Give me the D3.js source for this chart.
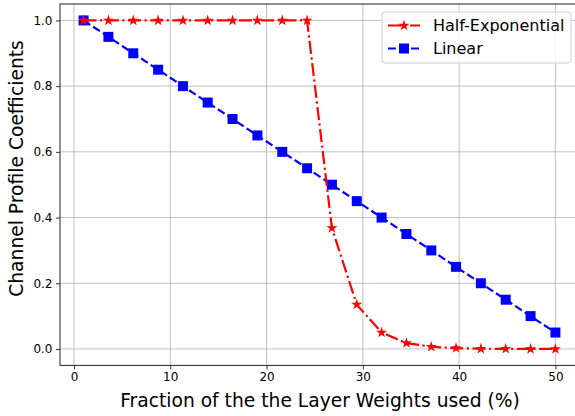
<!DOCTYPE html>
<html>
<head>
<meta charset="utf-8">
<script src="https://cdn.jsdelivr.net/npm/d3@7"></script>
<style>
  html, body { margin: 0; padding: 0; background: #fff; }
  svg { display: block; font-family: "DejaVu Sans", sans-serif; }
</style>
</head>
<body>
<svg id="chart" width="575" height="416"></svg>
<script>
// Fraction of layer weights used (%)
const fractions = [1.00, 3.58, 6.16, 8.74, 11.32, 13.89, 16.47, 19.05, 21.63, 24.21,
                   26.79, 29.37, 31.95, 34.53, 37.11, 39.68, 42.26, 44.84, 47.42, 50.00];
// Channel profile coefficients per scheme
const halfExponential = [1, 1, 1, 1, 1, 1, 1, 1, 1, 1,
                         0.368, 0.135, 0.050, 0.018, 0.0067, 0.0025, 0.0009, 0.0003, 0.0001, 0.00005];
const linear = [1.00, 0.95, 0.90, 0.85, 0.80, 0.75, 0.70, 0.65, 0.60, 0.55,
                0.50, 0.45, 0.40, 0.35, 0.30, 0.25, 0.20, 0.15, 0.10, 0.05];
const xTicks = [0, 10, 20, 30, 40, 50];
const yTicks = [0.0, 0.2, 0.4, 0.6, 0.8, 1.0];
const seriesNames = ["Half-Exponential", "Linear"];

const svg = d3.select("#chart");
const plot = { left: 60, top: 4, right: 579, bottom: 365.4 };

const x = d3.scaleLinear().domain([-1.45, 52.45]).range([plot.left, plot.right]);
const y = d3.scaleLinear().domain([-0.05, 1.05]).range([plot.bottom, plot.top]);

// grid
const grid = svg.append("g");
grid.selectAll("line.gx").data(xTicks).join("line")
  .attr("x1", d => x(d)).attr("x2", d => x(d))
  .attr("y1", plot.top).attr("y2", plot.bottom)
  .attr("stroke", "#b0b0b0").attr("stroke-width", 0.8);
grid.selectAll("line.gy").data(yTicks).join("line")
  .attr("y1", d => y(d)).attr("y2", d => y(d))
  .attr("x1", plot.left).attr("x2", plot.right)
  .attr("stroke", "#b0b0b0").attr("stroke-width", 0.8);

// axes
const xAxis = d3.axisBottom(x).tickValues(xTicks).tickFormat(d3.format("d")).tickSizeOuter(0).tickSize(4).tickPadding(3.5);
const yAxis = d3.axisLeft(y).tickValues(yTicks).tickFormat(d3.format(".1f")).tickSizeOuter(0).tickSize(4).tickPadding(3.5);

const gx = svg.append("g").attr("transform", `translate(0,${plot.bottom})`).call(xAxis);
const gy = svg.append("g").attr("transform", `translate(${plot.left},0)`).call(yAxis);
[gx, gy].forEach(g => {
  g.select(".domain").remove();
  g.selectAll("text").attr("font-family", "DejaVu Sans").attr("font-size", 12).attr("fill", "#000");
  g.selectAll(".tick line").attr("stroke", "#000").attr("stroke-width", 0.8);
});

// spines
svg.append("rect")
  .attr("x", plot.left).attr("y", plot.top)
  .attr("width", plot.right - plot.left).attr("height", plot.bottom - plot.top)
  .attr("fill", "none").attr("stroke", "#222").attr("stroke-width", 1);

// axis labels
svg.append("text")
  .attr("x", 320).attr("y", 406.5)
  .attr("text-anchor", "middle").attr("font-size", 18.7).attr("fill", "#000")
  .text("Fraction of the the Layer Weights used (%)");
svg.append("text")
  .attr("transform", `translate(23,168.5) rotate(-90)`)
  .attr("text-anchor", "middle").attr("font-size", 18.7).attr("fill", "#000")
  .text("Channel Profile Coefficients");

const line = d3.line().x(d => x(d[0])).y(d => y(d[1]));
const star = d3.symbol().type(d3.symbolStar).size(38);
const square = d3.symbol().type(d3.symbolSquare).size(100);

const halfPts = fractions.map((f, i) => [f, halfExponential[i]]);
const linPts = fractions.map((f, i) => [f, linear[i]]);

// Linear: blue dashed with squares
svg.append("path").datum(linPts).attr("d", line)
  .attr("fill", "none").attr("stroke", "#0000ff").attr("stroke-width", 2.2)
  .attr("stroke-dasharray", "8,3.5");
svg.append("g").selectAll("path").data(linPts).join("path")
  .attr("transform", d => `translate(${x(d[0])},${y(d[1])})`)
  .attr("d", square).attr("fill", "#0000ff");

// Half-Exponential: red dash-dot with stars
svg.append("path").datum(halfPts).attr("d", line)
  .attr("fill", "none").attr("stroke", "#ff0000").attr("stroke-width", 2.2)
  .attr("stroke-dasharray", "13,3.5,2.2,3.5");
svg.append("g").selectAll("path").data(halfPts).join("path")
  .attr("transform", d => `translate(${x(d[0])},${y(d[1])})`)
  .attr("d", star).attr("fill", "#ff0000");

// legend
const lg = svg.append("g");
lg.append("rect").attr("x", 382).attr("y", 12).attr("width", 189).attr("height", 51)
  .attr("rx", 3).attr("fill", "rgba(255,255,255,0.8)").attr("stroke", "#d0d0d0").attr("stroke-width", 1);
const entries = [
  { name: seriesNames[0], color: "#ff0000", dash: "13,3.5,2.2,3.5", sym: star, cy: 25.5 },
  { name: seriesNames[1], color: "#0000ff", dash: "8,3.5", sym: square, cy: 48.5 }
];
entries.forEach(e => {
  lg.append("line").attr("x1", 388).attr("x2", 420).attr("y1", e.cy).attr("y2", e.cy)
    .attr("stroke", e.color).attr("stroke-width", 2.2).attr("stroke-dasharray", e.dash);
  lg.append("path").attr("transform", `translate(404,${e.cy})`).attr("d", e.sym).attr("fill", e.color);
  lg.append("text").attr("x", 433).attr("y", e.cy + 5.5).attr("font-size", 16).attr("fill", "#000").text(e.name);
});
</script>
</body>
</html>
